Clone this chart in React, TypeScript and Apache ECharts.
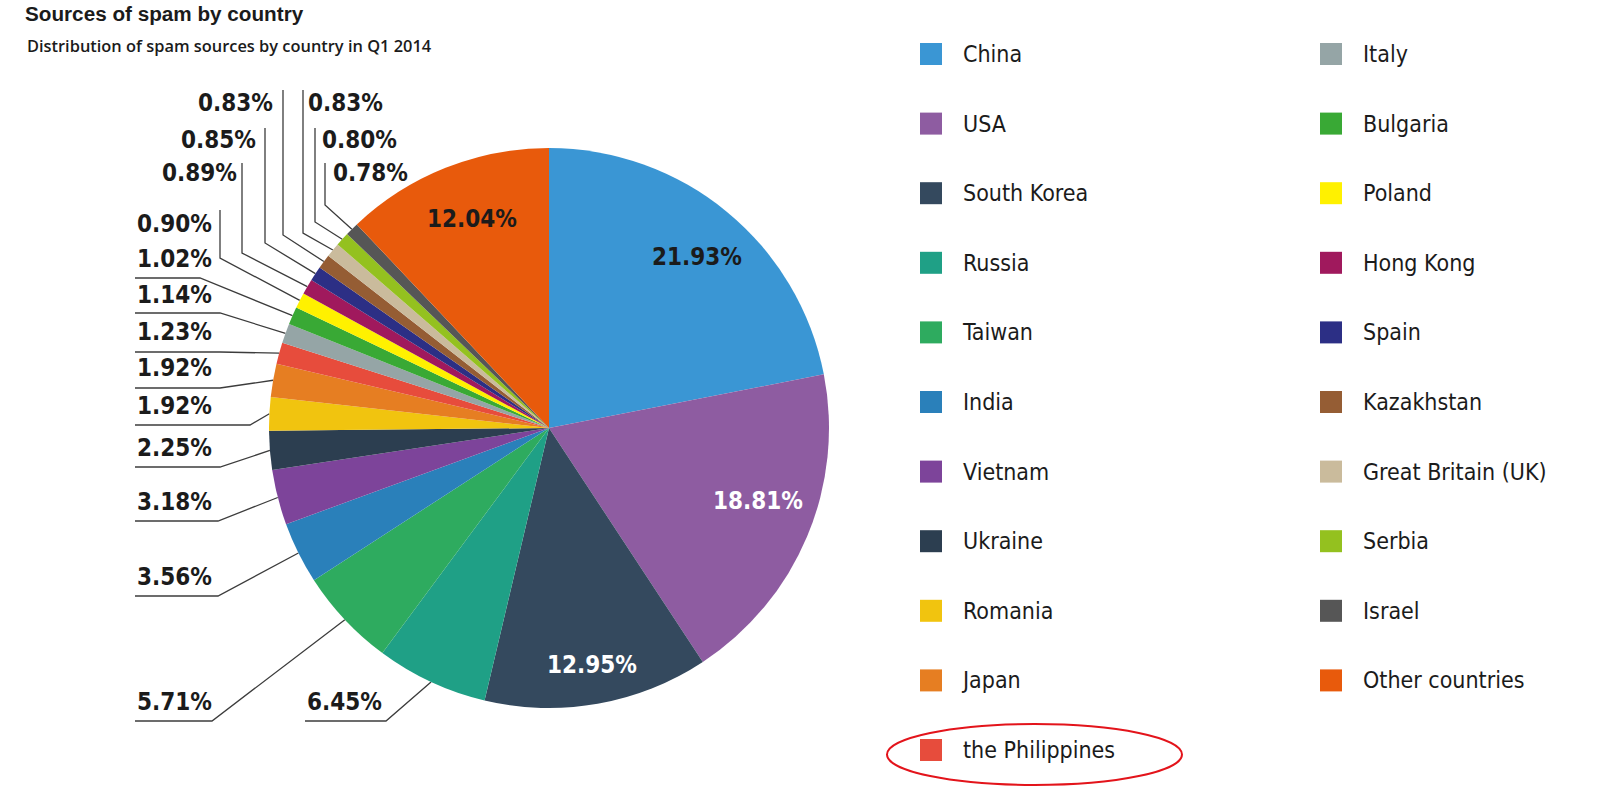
import * as echarts from "echarts";
import React, { useEffect, useRef } from "react";

// slices, clockwise from 12 o'clock
const countries = [
  "China",
  "USA",
  "South Korea",
  "Russia",
  "Taiwan",
  "India",
  "Vietnam",
  "Ukraine",
  "Romania",
  "Japan",
  "the Philippines",
  "Italy",
  "Bulgaria",
  "Poland",
  "Hong Kong",
  "Spain",
  "Kazakhstan",
  "Great Britain (UK)",
  "Serbia",
  "Israel",
  "Other countries",
];

const shares = [
  21.93, 18.81, 12.95, 6.45, 5.71, 3.56, 3.18, 2.25, 1.92, 1.92, 1.23, 1.14,
  1.02, 0.9, 0.89, 0.85, 0.83, 0.83, 0.8, 0.78, 12.04,
];

const colors = [
  "#3a96d4",
  "#8e5ca1",
  "#34495e",
  "#1fa086",
  "#2eab5f",
  "#2a80ba",
  "#7d449a",
  "#2c3e50",
  "#f1c40f",
  "#e67e22",
  "#e74c3c",
  "#95a5a6",
  "#39a935",
  "#fff100",
  "#a0195d",
  "#2c2f85",
  "#955d34",
  "#cabb9c",
  "#94c11f",
  "#565656",
  "#e85a0c",
];

// labels drawn inside their slice, with their text colour
const insideLabelColor: Record<string, string> = {
  China: "#1b1b1b",
  USA: "#ffffff",
  "South Korea": "#ffffff",
  "Other countries": "#1b1b1b",
};

const legendColumnSize = 11;

const NARROW = "'Liberation Sans Narrow', 'DejaVu Sans Condensed', 'Arial Narrow', sans-serif";
const INK = "#1b1b1b";

// hand placed labels, like the original artwork (pixels)
type Spot = { x: number; y: number; align: "left" | "right" | "center"; line?: number[][] };
const labelSpots: Record<string, Spot> = {
  China: { x: 697, y: 257, align: "center" },
  USA: { x: 758, y: 501, align: "center" },
  "South Korea": { x: 592, y: 665, align: "center" },
  "Other countries": { x: 472, y: 219, align: "center" },
  Russia: { x: 307, y: 702, align: "left", line: [[386, 721], [305, 721]] },
  Taiwan: { x: 137, y: 702, align: "left", line: [[212, 721], [135, 721]] },
  India: { x: 137, y: 577, align: "left", line: [[218, 596], [135, 596]] },
  Vietnam: { x: 137, y: 502, align: "left", line: [[218, 521], [135, 521]] },
  Ukraine: { x: 137, y: 448, align: "left", line: [[220, 467], [135, 467]] },
  Romania: { x: 137, y: 406, align: "left", line: [[250, 425], [135, 425]] },
  Japan: { x: 137, y: 368, align: "left", line: [[220, 388], [135, 388]] },
  "the Philippines": { x: 137, y: 332, align: "left", line: [[220, 352], [135, 352]] },
  Italy: { x: 137, y: 295, align: "left", line: [[220, 313], [135, 313]] },
  Bulgaria: { x: 137, y: 259, align: "left", line: [[200, 278], [135, 278]] },
  Poland: { x: 212, y: 224, align: "right", line: [[220, 258], [220, 210]] },
  "Hong Kong": { x: 237, y: 173, align: "right", line: [[242, 253], [242, 163]] },
  Spain: { x: 256, y: 140, align: "right", line: [[265, 243], [265, 128]] },
  Kazakhstan: { x: 273, y: 103, align: "right", line: [[283, 235], [283, 90]] },
  "Great Britain (UK)": { x: 308, y: 103, align: "left", line: [[303, 233], [303, 90]] },
  Serbia: { x: 322, y: 140, align: "left", line: [[315, 222], [315, 128]] },
  Israel: { x: 333, y: 173, align: "left", line: [[325, 205], [325, 163]] },
};

const legendBase = {
  orient: "vertical",
  top: 42.5,
  padding: 0,
  itemWidth: 22,
  itemHeight: 22,
  itemGap: 46.6,
  icon: "rect",
  selectedMode: false,
  formatter: (name: string) => `{g|}{t|${name}}`,
  textStyle: {
    fontFamily: NARROW,
    fontSize: 23,
    lineHeight: 22,
    color: INK,
    rich: {
      g: { width: 16, height: 22, lineHeight: 22 },
      t: { fontFamily: NARROW, fontSize: 23, lineHeight: 22, color: INK },
    },
  },
};

const App: React.FC = () => {
  const chartRef = useRef<HTMLDivElement | null>(null);

  useEffect(() => {
    const chart = echarts.init(chartRef.current, null, { renderer: "svg" });

    const data = countries.map((name, i) => {
      const item: any = { name, value: shares[i], itemStyle: { color: colors[i] } };
      if (insideLabelColor[name]) {
        item.label = { position: "inside", color: insideLabelColor[name] };
        item.labelLine = { show: false };
      }
      return item;
    });

    chart.setOption({
      animation: false,
      backgroundColor: "#ffffff",
      title: [
        {
          text: "Sources of spam by country",
          left: 25,
          top: 0,
          padding: 0,
          textStyle: {
            fontFamily: "'Liberation Sans', Arial, sans-serif",
            fontWeight: "bold",
            fontSize: 20.7,
            lineHeight: 26,
            color: INK,
          },
        },
        {
          text: "Distribution of spam sources by country in Q1 2014",
          left: 27,
          top: 34,
          padding: 0,
          textStyle: {
            fontFamily: "'Open Sans', sans-serif",
            fontWeight: 600,
            fontSize: 16.4,
            lineHeight: 22,
            color: INK,
          },
        },
      ],
      legend: [
        { ...legendBase, left: 920, data: countries.slice(0, legendColumnSize) },
        { ...legendBase, left: 1320, data: countries.slice(legendColumnSize) },
      ],
      series: [
        {
          type: "pie",
          center: [549, 428],
          radius: 280,
          startAngle: 90,
          clockwise: true,
          avoidLabelOverlap: false,
          silent: true,
          emphasis: { disabled: true },
          itemStyle: { borderWidth: 0 },
          label: {
            show: true,
            position: "outside",
            formatter: (p: any) => `${Number(p.value).toFixed(2)}%`,
            fontFamily: NARROW,
            fontWeight: "bold",
            fontSize: 24,
            color: INK,
          },
          labelLine: {
            show: true,
            length: 15,
            length2: 15,
            lineStyle: { color: "#3c3c3c", width: 1.3 },
          },
          labelLayout: (params: any) => {
            const spot = labelSpots[countries[params.dataIndex]];
            if (!spot) return {};
            const out: any = {
              x: spot.x,
              y: spot.y,
              align: spot.align,
              verticalAlign: "middle",
            };
            if (spot.line && params.labelLinePoints && params.labelLinePoints.length) {
              out.labelLinePoints = [params.labelLinePoints[0], ...spot.line];
            }
            return out;
          },
          data,
        },
      ],
      graphic: [
        {
          type: "ellipse",
          shape: { cx: 1034.5, cy: 754.5, rx: 147.5, ry: 30.5 },
          style: { fill: "none", stroke: "#e3141b", lineWidth: 2 },
          silent: true,
        },
      ],
    });

    return () => {
      chart.dispose();
    };
  }, []);

  return (
    <div
      ref={chartRef}
      style={{ position: "fixed", left: 0, top: 0, width: "1600px", height: "787px", background: "#fff" }}
    ></div>
  );
};

export default App;
